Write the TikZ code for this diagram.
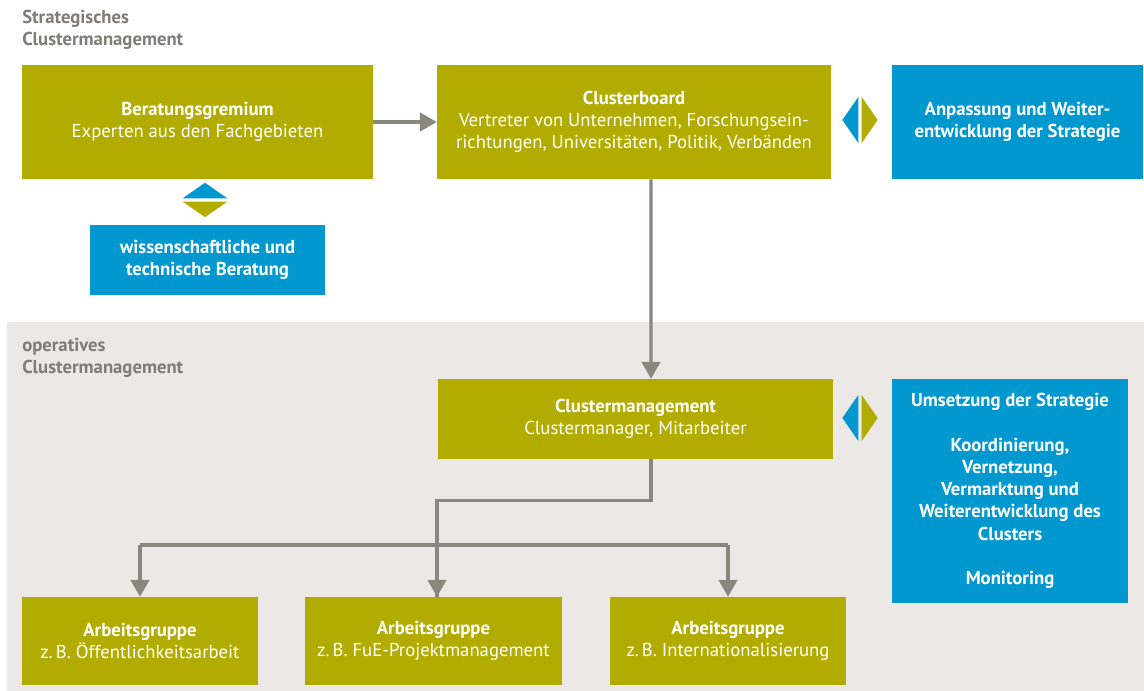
\documentclass[tikz,border=0pt]{standalone}
\usepackage{fontspec}
\setmainfont{PT Sans}
\usetikzlibrary{arrows.meta, positioning, calc}
\definecolor{olivebox}{RGB}{178, 172, 0}
\definecolor{bluebox}{RGB}{0, 152, 206}
\definecolor{arrowgray}{RGB}{138, 135, 126}
\definecolor{labelgray}{RGB}{128, 125, 120}
\definecolor{opbg}{RGB}{235, 232, 229}

\begin{document}
\begin{tikzpicture}[
    greenbox/.style={
        rectangle,
        fill=olivebox,
        text=white,
        align=center,
        inner sep=0pt,
        font=\fontsize{13.3}{15.8}\selectfont
    },
    bluebox/.style={
        rectangle,
        fill=bluebox,
        text=white,
        align=center,
        inner sep=0pt,
        font=\fontsize{13.3}{15.8}\selectfont\bfseries
    },
    arrow/.style={
        line width=2.2pt,
        draw=arrowgray,
        -{Triangle[width=0.46cm, length=0.42cm]}
    },
    line/.style={
        line width=2.2pt,
        draw=arrowgray
    },
    sectionlabel/.style={
        anchor=north west,
        align=left,
        inner sep=0pt,
        text=labelgray,
        font=\fontsize{13.3}{15.8}\selectfont\bfseries
    }
]

% Frame of the picture
\useasboundingbox (0,0) rectangle (28.6,-17.275);
\fill[white] (0,0) rectangle (28.6,-17.275);

% Operative area background
\fill[opbg] (0.175,-8.05) rectangle (28.6,-17.275);

% Section labels
\node[sectionlabel] (stratlabel) at (0.55,-0.25) {Strategisches\\Clustermanagement};
\node[sectionlabel] (oplabel) at (0.55,-8.45) {operatives\\Clustermanagement};

% Strategic level
\node[greenbox, minimum width=8.775cm, minimum height=2.85cm] (beratung) at (4.9375,-3.05)
    {\textbf{Beratungsgremium}\\Experten aus den Fachgebieten};
\node[greenbox, minimum width=9.85cm, minimum height=2.85cm] (board) at (15.85,-3.05)
    {\textbf{Clusterboard}\\Vertreter von Unternehmen, Forschungsein-\\richtungen, Universitäten, Politik, Verbänden};
\node[bluebox, minimum width=6.275cm, minimum height=2.85cm] (anpassung) at (25.4375,-3.05)
    {Anpassung und Weiter-\\entwicklung der Strategie};
\node[bluebox, minimum width=5.875cm, minimum height=1.75cm] (beratungblue) at (5.1875,-6.5)
    {wissenschaftliche und\\technische Beratung};

% Operative level
\node[greenbox, minimum width=9.875cm, minimum height=2cm] (cm) at (15.8875,-10.475)
    {\textbf{Clustermanagement}\\Clustermanager, Mitarbeiter};
\node[bluebox, minimum width=5.9cm, minimum height=5.6cm] (umsetzung) at (25.25,-12.275)
    {Umsetzung der Strategie\\[1.2em]Koordinierung,\\Vernetzung,\\Vermarktung und\\Weiterentwicklung des\\Clusters\\[1.2em]Monitoring};

\node[greenbox, minimum width=5.9cm, minimum height=2.2cm] (ag1) at (3.5,-16.025)
    {\textbf{Arbeitsgruppe}\\z.\,B. Öffentlichkeitsarbeit};
\node[greenbox, minimum width=6.425cm, minimum height=2.2cm] (ag2) at (10.8375,-16.025)
    {\textbf{Arbeitsgruppe}\\z.\,B. FuE-Projektmanagement};
\node[greenbox, minimum width=5.9cm, minimum height=2.2cm] (ag3) at (18.2,-16.025)
    {\textbf{Arbeitsgruppe}\\z.\,B. Internationalisierung};

% Exchange diamonds (split in two halves)
\coordinate (dia1) at (5.125,-5.0);
\fill[bluebox] ($(dia1)+(-0.56,0.04)$) -- ($(dia1)+(0,0.43)$) -- ($(dia1)+(0.56,0.04)$) -- cycle;
\fill[olivebox] ($(dia1)+(-0.56,-0.04)$) -- ($(dia1)+(0,-0.43)$) -- ($(dia1)+(0.56,-0.04)$) -- cycle;

\coordinate (dia2) at (21.5,-3.0);
\fill[bluebox] ($(dia2)+(-0.04,0.58)$) -- ($(dia2)+(-0.44,0)$) -- ($(dia2)+(-0.04,-0.58)$) -- cycle;
\fill[olivebox] ($(dia2)+(0.04,0.58)$) -- ($(dia2)+(0.44,0)$) -- ($(dia2)+(0.04,-0.58)$) -- cycle;

\coordinate (dia3) at (21.5,-10.45);
\fill[bluebox] ($(dia3)+(-0.04,0.58)$) -- ($(dia3)+(-0.44,0)$) -- ($(dia3)+(-0.04,-0.58)$) -- cycle;
\fill[olivebox] ($(dia3)+(0.04,0.58)$) -- ($(dia3)+(0.44,0)$) -- ($(dia3)+(0.04,-0.58)$) -- cycle;

% Main flow arrows
\draw[arrow] (beratung.east) -- (board.west);
\draw[arrow] ($(board.south)+(0.425,0)$) -- ($(cm.north)+(0.3875,0)$);

% Branch to working groups
\coordinate (split) at ($(cm.south)+(0.3875,-1.025)$);
\coordinate (agbar) at (0,-13.625);
\draw[line] ($(cm.south)+(0.3875,0)$) -- (split) -| ($(ag2.north)+(0.0875,0)$);
\draw[arrow] (split -| ag2.north) ++(0.0875,0) -- ($(ag2.north)+(0.0875,0)$);
\draw[arrow] (agbar -| ag1.north) -- (ag1.north);
\draw[arrow] (agbar -| ag3.north) -- (ag3.north);
\draw[line] (agbar -| ag1.north) -- (agbar -| ag3.north);

\end{tikzpicture}
\end{document}
